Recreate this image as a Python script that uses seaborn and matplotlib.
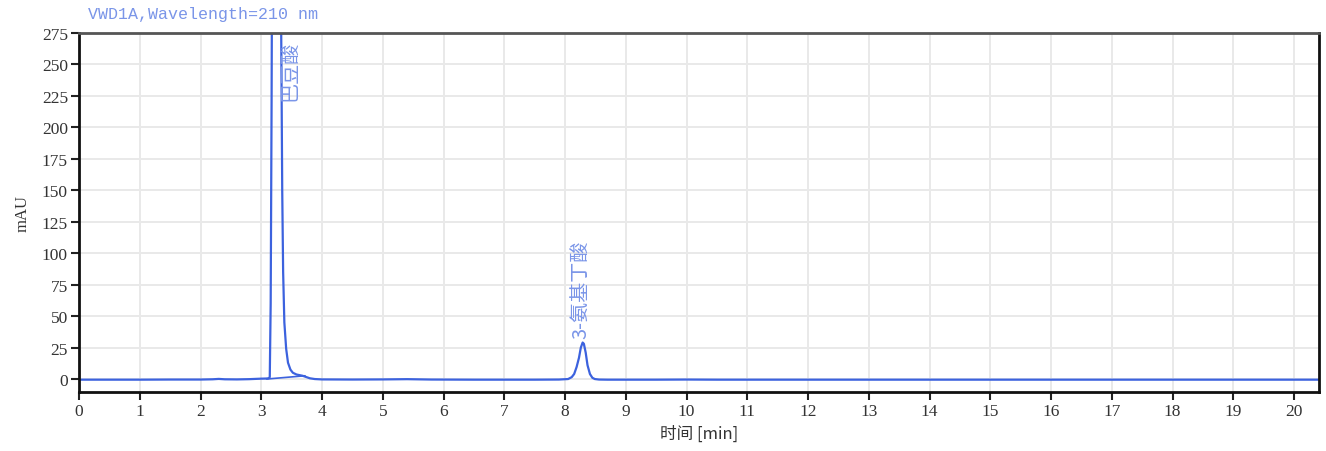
import matplotlib
matplotlib.use("Agg")
import matplotlib.pyplot as plt
import seaborn as sns
import pandas as pd

# Chromatogram trace, VWD1A at 210 nm: retention time [min] vs. absorbance [mAU]
time_min = [0.0, 0.5, 1.0, 1.5, 2.0, 2.2, 2.3, 2.4, 2.6, 2.8, 3.0, 3.08, 3.12,
            3.14, 3.155, 3.17, 3.19, 3.22, 3.26, 3.30, 3.325, 3.345, 3.36, 3.38,
            3.41, 3.44, 3.48, 3.52, 3.58, 3.64, 3.68, 3.74, 3.80, 3.88, 4.0,
            4.5, 5.0, 5.4, 5.8, 6.5, 7.0, 7.5, 7.9, 8.05, 8.11, 8.15, 8.19, 8.23,
            8.26, 8.29, 8.31, 8.34, 8.37, 8.41, 8.45, 8.49, 8.56, 8.7, 9.0,
            9.5, 10.0, 10.5, 11.0, 12.0, 13.0, 14.0, 15.0, 16.0, 17.0, 18.0,
            19.0, 20.0, 20.5]
signal_mau = [-0.5, -0.5, -0.5, -0.4, -0.4, -0.2, 0.1, -0.2, -0.3, -0.1, 0.3, 0.4, 0.6,
              1.5, 60.0, 220.0, 520.0, 900.0, 1000.0, 620.0, 300.0, 150.0, 85.0, 45.0,
              24.0, 13.0, 7.5, 5.0, 3.6, 3.0, 2.6, 1.6, 0.6, 0.0, -0.3,
              -0.4, -0.3, -0.1, -0.4, -0.5, -0.5, -0.5, -0.4, 0.0, 1.5, 4.0, 9.5, 17.0,
              25.0, 29.0, 28.0, 21.0, 11.0, 4.0, 1.0, 0.0, -0.4, -0.5, -0.5,
              -0.5, -0.4, -0.5, -0.5, -0.5, -0.5, -0.5, -0.5, -0.5, -0.5, -0.5,
              -0.5, -0.5, -0.5]

# Integration baseline drawn under the first peak
baseline_time = [3.09, 3.72]
baseline_mau = [0.0, 2.6]

# Peak annotations: name, retention time, label anchor height
peak_names = ["巴豆酸", "3-氨基丁酸"]
peak_label_x = [3.47, 8.26]
peak_label_y = [222.0, 33.0]

x_ticks = list(range(0, 21))
y_ticks = list(range(0, 276, 25))

trace = pd.DataFrame({"time": time_min, "mAU": signal_mau})
base = pd.DataFrame({"time": baseline_time, "mAU": baseline_mau})

sns.set_theme(style="whitegrid")
plt.rcParams["font.family"] = ["Liberation Serif", "Noto Sans CJK SC", "DejaVu Sans"]

line_color = "#3c62de"
label_color = "#7a95e8"
cjk = ["Noto Sans CJK SC", "DejaVu Sans"]

fig = plt.figure(figsize=(13.26, 4.52), dpi=100)
ax = fig.add_axes([79 / 1326, 1 - 393 / 452, (1319 - 79) / 1326, (393 - 34) / 452])

sns.lineplot(data=trace, x="time", y="mAU", ax=ax, color=line_color, linewidth=1.6)
sns.lineplot(data=base, x="time", y="mAU", ax=ax, color=line_color, linewidth=1.2)

ax.set_xlim(0, 20.41)
ax.set_ylim(-10.3, 275)
ax.set_xticks(x_ticks)
ax.set_yticks(y_ticks)
ax.tick_params(axis="both", which="major", length=6, width=1.5, color="#222222",
               labelsize=12.5, labelcolor="#333333", pad=2, direction="out")
ax.tick_params(axis="both", bottom=True, left=True)

ax.grid(True, color="#e9e9e9", linewidth=1.4)
ax.set_axisbelow(True)
for side in ["left", "bottom", "right"]:
    ax.spines[side].set_color("#111111")
    ax.spines[side].set_linewidth(2.0)
ax.spines["top"].set_color("#555555")
ax.spines["top"].set_linewidth(2.0)

ax.set_xlabel("时间 [min]", family=cjk, fontsize=12, color="#333333", labelpad=4)
ax.set_ylabel("mAU", fontsize=12, color="#333333", labelpad=8)

for name, px, py in zip(peak_names, peak_label_x, peak_label_y):
    ax.text(px, py, name, rotation=90, ha="center", va="bottom", family=cjk,
            fontsize=14.5, fontweight="light", color=label_color, clip_on=True)

fig.text(88 / 1326, 1 - 14 / 452, "VWD1A,Wavelength=210 nm", ha="left", va="center",
         family=["Liberation Mono"], fontsize=12, color=label_color)

fig.savefig("out.png", dpi=100, facecolor="white")
